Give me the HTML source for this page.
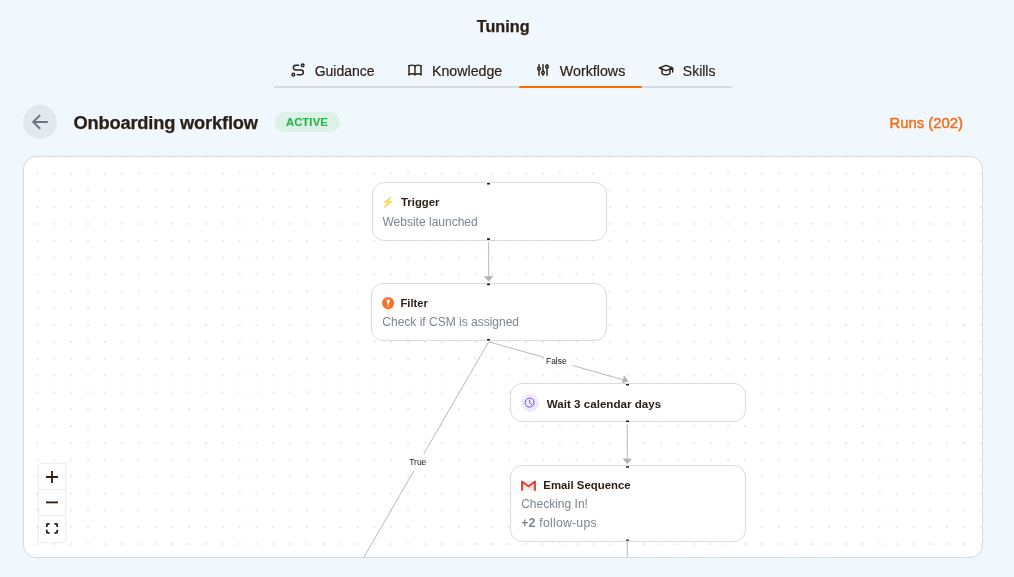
<!DOCTYPE html>
<html><head><meta charset="utf-8">
<style>
html,body{margin:0;padding:0;}
body{-webkit-font-smoothing:antialiased;width:1014px;height:577px;overflow:hidden;background:#f0f7fd;position:relative;font-family:"Liberation Sans",sans-serif;color:#2a1d14;}
.t{position:absolute;white-space:nowrap;line-height:1;filter:brightness(1);}
svg{position:absolute;overflow:visible;}
#canvas{position:absolute;left:23px;top:156px;width:958px;height:400px;border:1px solid #d5dade;border-radius:13px;background:#fff;overflow:hidden;}
.node{position:absolute;box-sizing:border-box;border:0.85px solid #d6dce0;border-radius:12px;background:#fff;}
</style></head>
<body>
<!-- title -->
<div class="t" id="tuning" style="left:476.8px;top:17.9px;font-size:16.2px;font-weight:700;-webkit-text-stroke:0.25px #2a1d14;">Tuning</div>

<!-- tabs -->
<div style="position:absolute;left:274px;top:86px;width:458px;height:2px;background:#d7dcdf;"></div>
<div style="position:absolute;left:519px;top:86px;width:123px;height:2px;background:#ff6a00;border-radius:1px;"></div>

<svg style="left:289.9px;top:62.1px" width="16" height="16" viewBox="0 0 24 24" fill="none" stroke="#2e2118" stroke-width="2.2" stroke-linecap="round" stroke-linejoin="round"><path d="M3 19a2 2 0 1 0 4 0a2 2 0 0 0 -4 0"/><path d="M19 7a2 2 0 1 0 0 -4a2 2 0 0 0 0 4z"/><path d="M11 19h5.5a3.5 3.5 0 0 0 0 -7h-8a3.5 3.5 0 0 1 0 -7h4.5"/></svg>
<div class="t" style="left:314.7px;top:64px;font-size:14px;-webkit-text-stroke:0.2px #2e2118;">Guidance</div>

<svg style="left:407px;top:62.4px" width="16" height="16" viewBox="0 0 24 24" fill="none" stroke="#2e2118" stroke-width="2.2" stroke-linecap="round" stroke-linejoin="round"><path d="M3 19a9 9 0 0 1 9 0a9 9 0 0 1 9 0"/><path d="M3 6a9 9 0 0 1 9 0a9 9 0 0 1 9 0"/><path d="M3 6l0 13"/><path d="M12 6l0 13"/><path d="M21 6l0 13"/></svg>
<div class="t" style="left:432px;top:64px;font-size:14.2px;-webkit-text-stroke:0.2px #2e2118;">Knowledge</div>

<svg style="left:535px;top:61.8px" width="16" height="16" viewBox="0 0 24 24" fill="none" stroke="#2e2118" stroke-width="2.2" stroke-linecap="round" stroke-linejoin="round"><path d="M4 10a2 2 0 1 0 4 0a2 2 0 0 0 -4 0"/><path d="M6 4v4"/><path d="M6 12v8"/><path d="M10 16a2 2 0 1 0 4 0a2 2 0 0 0 -4 0"/><path d="M12 4v10"/><path d="M12 18v2"/><path d="M16 7a2 2 0 1 0 4 0a2 2 0 0 0 -4 0"/><path d="M18 4v1"/><path d="M18 9v11"/></svg>
<div class="t" style="left:559.8px;top:64px;font-size:14.25px;-webkit-text-stroke:0.2px #2e2118;">Workflows</div>

<svg style="left:657.9px;top:61.9px" width="16" height="16" viewBox="0 0 24 24" fill="none" stroke="#2e2118" stroke-width="2.2" stroke-linecap="round" stroke-linejoin="round"><path d="M22 9l-10 -4l-10 4l10 4l10 -4v6"/><path d="M6 10.6v5.4a6 3 0 0 0 12 0v-5.4"/></svg>
<div class="t" style="left:682.8px;top:64px;font-size:14px;-webkit-text-stroke:0.2px #2e2118;">Skills</div>

<!-- header row -->
<div style="position:absolute;left:23px;top:105px;width:34px;height:34px;border-radius:50%;background:#e3e8ef;"></div>
<svg style="left:0;top:0" width="1014" height="577"><path d="M33.2 121.9H47M39.6 115.6L33.2 121.9L39.6 128.2" fill="none" stroke="#6b7380" stroke-width="2" stroke-linecap="round" stroke-linejoin="round"/></svg>
<div class="t" style="left:73.4px;top:114.3px;font-size:18.3px;letter-spacing:-0.18px;font-weight:700;-webkit-text-stroke:0.25px #2a1d14;">Onboarding workflow</div>
<div style="position:absolute;left:275px;top:112px;width:65px;height:20px;border-radius:10px;background:#dcf2e6;"></div>
<div class="t" style="left:285.9px;top:116.9px;font-size:11.2px;letter-spacing:0.16px;font-weight:700;color:#2ab54d;-webkit-text-stroke:0.15px #2ab54d;">ACTIVE</div>
<div class="t" style="left:889.6px;top:115.8px;font-size:14.85px;-webkit-text-stroke:0.45px #fa6a12;color:#fa6a12;">Runs (202)</div>

<!-- canvas -->
<div id="canvas">
<svg style="left:0;top:0" width="958" height="400">
<defs><pattern id="dots" patternUnits="userSpaceOnUse" x="13.5" y="16.4" width="16.845" height="16.845"><rect x="-0.7" y="-0.5" width="1.4" height="1" fill="#bcc0c4"/><rect x="16.145" y="-0.5" width="1.4" height="1" fill="#bcc0c4"/><rect x="-0.7" y="16.345" width="1.4" height="1" fill="#bcc0c4"/><rect x="16.145" y="16.345" width="1.4" height="1" fill="#bcc0c4"/></pattern></defs>
<rect x="0" y="0" width="958" height="400" fill="url(#dots)"/>
</svg>
</div>

<!-- edges (page coords) -->
<svg style="left:0;top:0" width="1014" height="577">
<defs><clipPath id="cc"><rect x="24" y="157" width="958" height="400"/></clipPath></defs>
<g clip-path="url(#cc)" stroke="#b1b1b7" stroke-width="0.9" fill="none">
<line x1="488.6" y1="242" x2="488.6" y2="277.5"/>
<line x1="488.7" y1="341.8" x2="625" y2="380.3"/>
<line x1="627.3" y1="424.5" x2="627.3" y2="460"/>
<line x1="488.7" y1="341.8" x2="364" y2="557"/>
<line x1="627.3" y1="541" x2="627.3" y2="560"/>
</g>
<g fill="#b1b1b7" stroke="#b1b1b7" stroke-width="0.8" stroke-linejoin="round">
<polygon points="484.6,276.6 492.6,276.6 488.6,281.2"/>
<polygon points="623.3,459 631.3,459 627.3,463.6"/>
<polygon points="624.2,376.2 622.6,382.6 628,381.2"/>
</g>
<rect x="544" y="353" width="28.3" height="17" fill="#fff"/>
<rect x="404.5" y="454" width="26" height="17" fill="#fff"/>
</svg>
<div class="t" style="left:546.1px;top:357.1px;font-size:8.4px;color:#151515;">False</div>
<div class="t" style="left:409.2px;top:458.4px;font-size:8.5px;color:#151515;">True</div>

<!-- nodes -->
<div class="node" style="left:371.5px;top:182.3px;width:235.5px;height:58.9px;"></div>
<div class="node" style="left:371.3px;top:283.4px;width:235.6px;height:57.2px;"></div>
<div class="node" style="left:510.2px;top:383.3px;width:235.8px;height:39.2px;"></div>
<div class="node" style="left:510.3px;top:465.2px;width:235.6px;height:76.8px;"></div>

<!-- handles -->
<svg style="left:0;top:0" width="1014" height="577" fill="#111">
<rect x="487" y="182.9" width="3" height="1.6" rx="0.6"/>
<rect x="487" y="238.3" width="3" height="1.6" rx="0.6"/>
<rect x="487" y="283.6" width="3" height="1.6" rx="0.6"/>
<rect x="487" y="339" width="3" height="1.6" rx="0.6"/>
<rect x="626" y="384" width="3" height="1.4" rx="0.6"/>
<rect x="626" y="420.6" width="3" height="1.4" rx="0.6"/>
<rect x="626" y="466.2" width="3" height="1.6" rx="0.6"/>
<rect x="626" y="539.4" width="3" height="1.4" rx="0.6"/>
</svg>

<!-- node contents -->
<svg style="left:0;top:0" width="1014" height="577"><defs><radialGradient id="bg1" gradientUnits="userSpaceOnUse" cx="388.2" cy="202.2" r="5.5"><stop offset="0" stop-color="#ffe04a"/><stop offset="0.6" stop-color="#ffc93a"/><stop offset="1" stop-color="#f9a21f"/></radialGradient></defs><polygon points="390.8,197 384,202.6 387.6,202.6 384.3,207.8 392.2,201.2 388.4,201.2" fill="url(#bg1)" stroke="url(#bg1)" stroke-width="0.4" stroke-linejoin="round"/></svg>
<div class="t" style="left:401px;top:197.2px;font-size:11.36px;font-weight:700;">Trigger</div>
<div class="t" style="left:382.5px;top:215.6px;font-size:12px;color:#7c8590;">Website launched</div>

<svg style="left:382px;top:296.8px" width="12.2" height="12.2" viewBox="0 0 12 12"><circle cx="6" cy="6" r="6" fill="#f5732b"/><path d="M4.1 2.7H8L6.5 6.6V8.1H5.6V6.6Z" fill="#fff"/><circle cx="6" cy="9.4" r="0.55" fill="#fff"/></svg>
<div class="t" style="left:400.5px;top:298.1px;font-size:11.2px;font-weight:700;">Filter</div>
<div class="t" style="left:382.3px;top:316.4px;font-size:12px;color:#7c8590;">Check if CSM is assigned</div>

<svg style="left:521px;top:393.9px" width="18" height="18" viewBox="0 0 18 18"><circle cx="9" cy="9" r="9" fill="#efe9fe"/><circle cx="8.6" cy="8.6" r="4.5" fill="none" stroke="#7445f2" stroke-width="0.95"/><path d="M8.5 6.2V8.6L10.8 10.8" fill="none" stroke="#7445f2" stroke-width="0.9" stroke-linecap="round"/></svg>
<div class="t" style="left:546.8px;top:398.3px;font-size:11.62px;font-weight:700;">Wait 3 calendar days</div>

<svg style="left:521px;top:480px" width="15" height="10.5" viewBox="0 0 15 10.5"><rect x="1.5" y="0.6" width="12" height="10" fill="#e9eff2"/><polygon points="7.5,6.4 13,2.6 13,10.6 12,10.6" fill="#d8e1e6"/><path d="M1 10.8V1.4L7.5 6.3L14 1.4V10.8" fill="none" stroke="#f23b2e" stroke-width="1.9" stroke-linejoin="round"/></svg>
<div class="t" style="left:543.3px;top:479.7px;font-size:11.4px;font-weight:700;">Email Sequence</div>
<div class="t" style="left:521.2px;top:498px;font-size:12px;color:#7c8590;">Checking In!</div>
<div class="t" style="left:521.2px;top:516.5px;font-size:12.3px;letter-spacing:0.22px;color:#7c8590;"><b>+2</b> follow-ups</div>

<!-- controls -->
<div style="position:absolute;left:39px;top:464px;width:26px;height:78px;background:#fefefe;box-shadow:0 0 1.5px 1px rgba(0,0,0,0.075);"></div>
<div style="position:absolute;left:39px;top:489px;width:26px;height:1px;background:#eee;"></div>
<div style="position:absolute;left:39px;top:515px;width:26px;height:1px;background:#eee;"></div>
<svg style="left:0;top:0" width="1014" height="577" fill="none" stroke="#2a1d14" stroke-width="1.8">
<path d="M46 477H58M52 471V483"/>
<path d="M46 502.4H58"/>
<path d="M46.8 527V524.8Q46.8 523.9 47.7 523.9H49.6M54.4 523.9H56.3Q57.2 523.9 57.2 524.8V527M57.2 529.8V532Q57.2 532.9 56.3 532.9H54.4M49.6 532.9H47.7Q46.8 532.9 46.8 532V529.8"/>
</svg>
</body></html>
